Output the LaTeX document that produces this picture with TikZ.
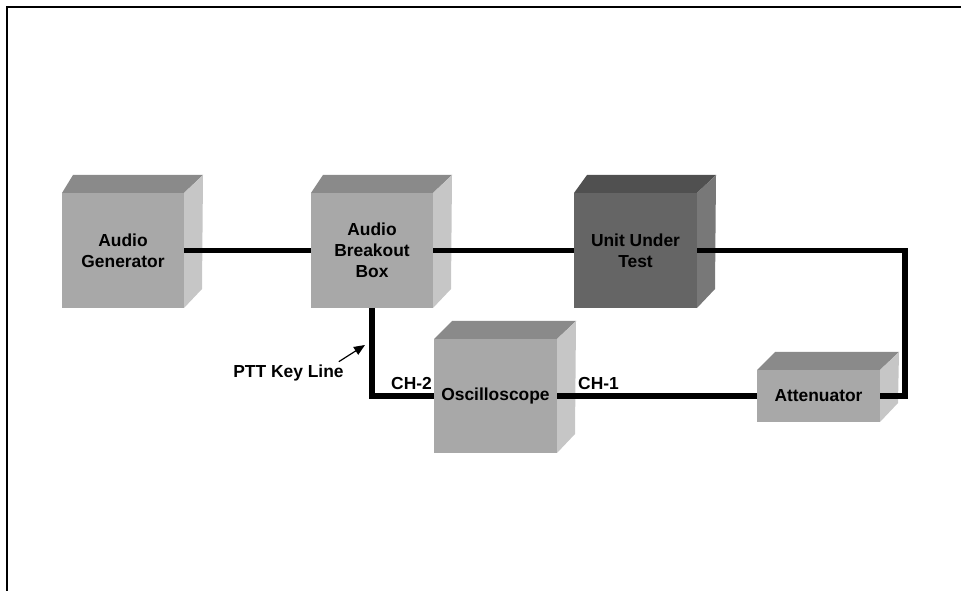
\documentclass[tikz,border=0pt]{standalone}
\usepackage{fontspec}
\setmainfont{Liberation Sans}
\usepackage{tikz}
\usetikzlibrary{arrows.meta,positioning}
\definecolor{cubeFront}{HTML}{A8A8A8}
\definecolor{cubeTop}{HTML}{8A8A8A}
\definecolor{cubeSide}{HTML}{C6C6C6}
\definecolor{uutFront}{HTML}{656565}
\definecolor{uutTop}{HTML}{505050}
\definecolor{uutSide}{HTML}{787878}
\tikzset{
    cube front/.style={
        fill=cubeFront,
        draw=none,
        outer sep=0pt,
        minimum width=122pt,
        minimum height=115pt,
        align=center,
        font=\fontsize{17.4}{21}\selectfont\bfseries,
        inner sep=0pt
    },
    cube dark/.style={cube front, fill=uutFront},
    cube flat/.style={cube front, minimum height=52pt},
    port label/.style={font=\fontsize{17.4}{21}\selectfont\bfseries, inner sep=0pt},
    wire/.style={line width=5.8pt, draw=black},
    note arrow/.style={-{Triangle[length=11pt,width=9pt]}, line width=1.2pt, draw=black},
    frame line/.style={line width=2pt, draw=black}
}

\begin{document}
\begin{tikzpicture}[x=1pt, y=1pt]
\useasboundingbox (0,0) rectangle (961,591);
% frame
\draw[frame line] (7,0) -- (7,584) -- (961,584);

% front faces
\node[cube front] (gen) at (123,340.5) {Audio\\Generator};
\node[cube front] (abb) at (372,340.5) {Audio\\Breakout\\Box};
\node[cube dark, minimum width=123pt] (uut) at (635.5,340.5) {Unit Under\\Test};
\node[cube front, minimum width=123pt, minimum height=114pt] (osc) at (495.5,195) {Oscilloscope};
\node[cube flat, minimum width=123pt] (att) at (818.5,195) {Attenuator};

% top and side faces
\foreach \n/\dl/\ctop/\cside in {gen/11/cubeTop/cubeSide, abb/12/cubeTop/cubeSide,
    uut/13/uutTop/uutSide, osc/18/cubeTop/cubeSide, att/18/cubeTop/cubeSide} {
    \fill[\ctop] (\n.north west) -- ++(\dl,18) -- ([shift={(19,18)}]\n.north east) -- (\n.north east) -- cycle;
    \fill[\cside] (\n.north east) -- ++(19,18) -- ([shift={(18,19)}]\n.south east) -- (\n.south east) -- cycle;
}

% wiring
\draw[wire] (gen.east) -- (abb.west);
\draw[wire] (abb.east) -- (uut.west);
\draw[wire] (uut.east) -| ([xshift=25pt]att.east) -- (att.east);
\draw[wire] (att.west) -- (osc.east);
\draw[wire] (abb.south) |- (osc.west);

% labels
\node[port label, anchor=south east] (ch2) at ([shift={(-2,6)}]osc.west) {CH-2};
\node[port label, anchor=south west] (ch1) at ([shift={(21,6)}]osc.east) {CH-1};
\node[port label] (ptt) at (288.5,218) {PTT Key Line};
\coordinate (pttTip) at (365,246);
\draw[note arrow] ([shift={(-5,3)}]ptt.north east) -- (pttTip);
\end{tikzpicture}
\end{document}
